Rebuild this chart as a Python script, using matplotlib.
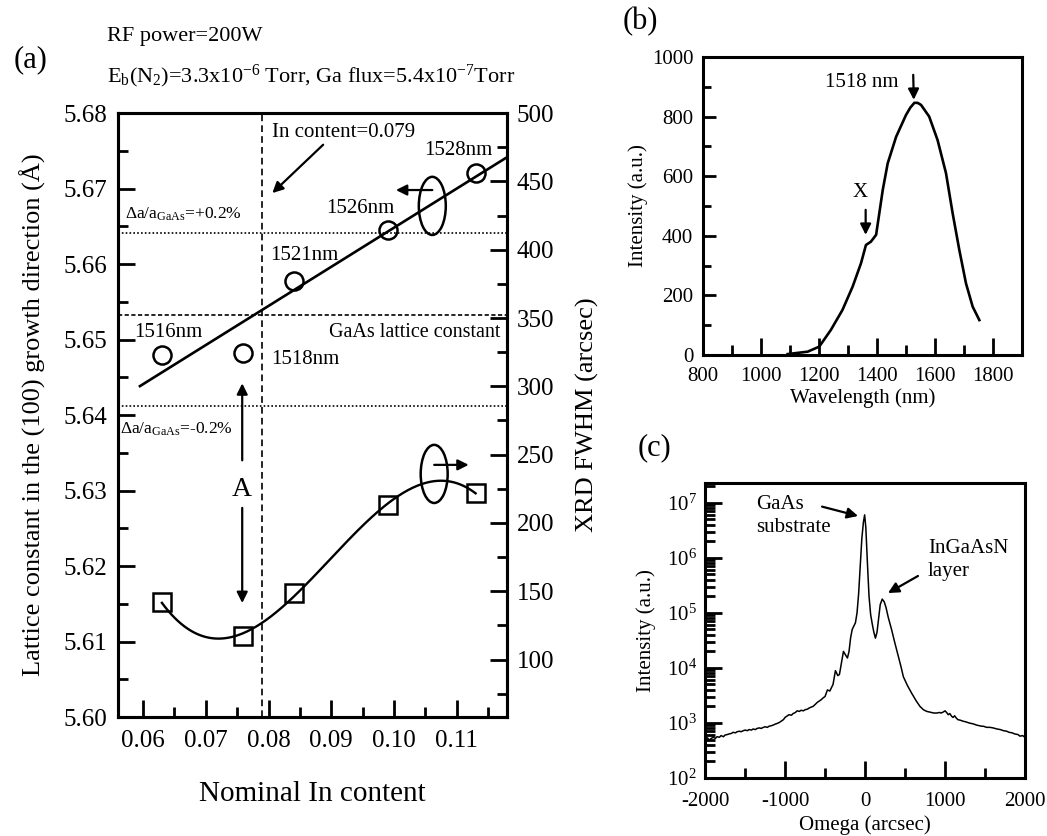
import numpy as np
import matplotlib
matplotlib.use('Agg')
import matplotlib.pyplot as plt
from matplotlib.patches import Ellipse
from matplotlib.ticker import MultipleLocator, FormatStrFormatter, LogLocator, NullFormatter

plt.rcParams['font.family'] = ['Liberation Serif', 'DejaVu Serif']
plt.rcParams['mathtext.fontset'] = 'custom'
plt.rcParams['mathtext.rm'] = 'Liberation Serif'
plt.rcParams['mathtext.it'] = 'Liberation Serif:italic'
plt.rcParams['mathtext.bf'] = 'Liberation Serif:bold'
plt.rcParams['axes.unicode_minus'] = False

# (a) lattice constant and XRD FWHM vs nominal In content
in_content = [0.063, 0.076, 0.084, 0.099, 0.113]
lattice = [5.648, 5.6482, 5.6577, 5.6645, 5.672]
pl_peak = ['1516nm', '1518nm', '1521nm', '1526nm', '1528nm']
fwhm = [142, 117, 149, 213, 222]
gaas_a = 5.6533
strain_hi = 5.6641
strain_lo = 5.6412

# (b) PL spectrum
wavelength = [1092, 1161, 1201, 1241, 1281, 1316, 1345, 1362, 1379, 1397, 1408, 1420,
              1437, 1466, 1500, 1515, 1529, 1540, 1552, 1580, 1609, 1638, 1661, 1684,
              1707, 1730, 1753]
pl_int = [3, 11, 28, 84, 151, 229, 308, 369, 380, 403, 475, 554,
          643, 732, 805, 830, 846, 846, 839, 800, 721, 610, 475, 352,
          240, 162, 117]

# (c) XRD rocking curve (log10 of intensity)
omega = [-2000, -1970, -1950, -1920, -1900, -1870, -1850, -1820, -1800, -1770, -1750,
         -1720, -1700, -1670, -1650, -1620, -1600, -1570, -1550, -1520, -1500, -1470,
         -1450, -1420, -1400, -1370, -1350, -1320, -1300, -1270, -1250, -1220, -1200,
         -1170, -1150, -1120, -1100, -1070, -1050, -1020, -1000, -970, -950, -920, -900,
         -870, -850, -820, -800, -770, -750, -720, -700, -670, -650, -620, -600, -570,
         -550, -520, -500, -470, -440, -420, -400, -370, -340, -320, -300, -270, -250,
         -220, -200, -180, -160, -140, -120, -100, -80, -60, -40, -20, -5, 10, 30, 50,
         70, 90, 110, 130, 150, 170, 190, 215, 240, 262, 290, 333, 370, 416, 450, 479,
         530, 583, 640, 687, 730, 771, 800, 830, 860, 896, 930, 950, 980, 1000, 1020,
         1040, 1060, 1083, 1100, 1120, 1140, 1160, 1190, 1229, 1260, 1300, 1330, 1360,
         1396, 1430, 1460, 1480, 1520, 1562, 1600, 1650, 1690, 1729, 1770, 1800, 1840,
         1870, 1910, 1937, 1970, 2000]
xrd_log = [2.70, 2.73, 2.69, 2.72, 2.74, 2.72, 2.75, 2.74, 2.77, 2.75, 2.78,
           2.79, 2.80, 2.81, 2.83, 2.82, 2.84, 2.85, 2.84, 2.86, 2.87, 2.86,
           2.88, 2.87, 2.89, 2.88, 2.90, 2.91, 2.90, 2.92, 2.93, 2.92, 2.94,
           2.95, 2.96, 2.98, 2.99, 3.01, 3.03, 3.06, 3.10, 3.13, 3.15, 3.14, 3.17,
           3.19, 3.22, 3.21, 3.23, 3.22, 3.24, 3.25, 3.27, 3.29, 3.30, 3.34, 3.37, 3.40,
           3.42, 3.46, 3.48, 3.60, 3.58, 3.64, 3.70, 3.95, 3.86, 3.88, 4.05, 4.30, 4.25,
           4.18, 4.30, 4.55, 4.70, 4.76, 4.82, 5.00, 5.35, 5.85, 6.35, 6.65, 6.78, 6.55, 5.90, 5.30,
           4.97, 4.80, 4.65, 4.54, 4.65, 4.90, 5.15, 5.25, 5.20, 5.10, 4.92, 4.69, 4.47, 4.21, 4.02, 3.84,
           3.68, 3.54, 3.40, 3.30, 3.24, 3.21, 3.20, 3.19, 3.18, 3.18, 3.19, 3.18, 3.20, 3.22, 3.19,
           3.15, 3.17, 3.12, 3.10, 3.13, 3.09, 3.06, 3.05, 3.03, 3.02, 3.00, 2.99, 2.98,
           2.96, 2.95, 2.94, 2.94, 2.92, 2.92, 2.91, 2.89, 2.88, 2.86, 2.85, 2.83, 2.82,
           2.80, 2.79, 2.76, 2.77, 2.74]

fig = plt.figure(figsize=(10.47, 8.36), dpi=100)

SPW = 2.2
arrow = dict(arrowstyle='-|>', color='k', lw=1.6, mutation_scale=16, shrinkA=0, shrinkB=0)

# ---------------- panel (a)
ax_a = fig.add_axes([0.1127, 0.1423, 0.3715, 0.7225])
ax_a2 = ax_a.twinx()
ax_a.set_xlim(0.056, 0.118)
ax_a.set_ylim(5.60, 5.68)
ax_a2.set_ylim(58, 500)
ax_a.xaxis.set_major_locator(MultipleLocator(0.01))
ax_a.xaxis.set_minor_locator(MultipleLocator(0.005))
ax_a.yaxis.set_major_locator(MultipleLocator(0.01))
ax_a.yaxis.set_minor_locator(MultipleLocator(0.005))
ax_a.xaxis.set_major_formatter(FormatStrFormatter('%.2f'))
ax_a.yaxis.set_major_formatter(FormatStrFormatter('%.2f'))
ax_a2.yaxis.set_major_locator(MultipleLocator(50))
ax_a2.yaxis.set_minor_locator(MultipleLocator(25))
for ax in (ax_a, ax_a2):
    ax.tick_params(which='both', direction='in', top=False, width=2, labelsize=18)
    ax.tick_params(which='major', length=12)
    ax.tick_params(which='minor', length=7)
    for s in ax.spines.values():
        s.set_linewidth(SPW)
ax_a.tick_params(right=False, which='both')
ax_a.tick_params(axis='y', pad=8)
ax_a.tick_params(axis='x', pad=9)
ax_a2.tick_params(axis='y', pad=7)

ax_a.set_xlabel('Nominal In content', fontsize=21, labelpad=21)
ax_a.set_ylabel('Lattice constant in the (100) growth direction (Å)', fontsize=19, labelpad=12)
ax_a2.set_ylabel('XRD FWHM (arcsec)', fontsize=19, labelpad=16)

dot = (0, (1.0, 1.3))
ax_a.axhline(strain_hi, color='k', lw=1.2, ls=dot)
ax_a.axhline(strain_lo, color='k', lw=1.2, ls=dot)
ax_a.axhline(gaas_a, color='k', lw=1.2, ls=(0, (2.5, 1.5)))
ax_a.axvline(0.079, color='k', lw=1.2, ls=(0, (4, 2.5)))

p1 = np.polyfit(in_content, lattice, 1)
xs = np.linspace(0.0595, 0.118, 50)
ax_a.plot(xs, np.polyval(p1, xs), color='k', lw=1.9)
ax_a.plot(in_content, lattice, 'o', mfc='none', mec='k', ms=13, mew=1.8)

p3 = np.polyfit(in_content, fwhm, 3)
xs3 = np.linspace(in_content[0], in_content[-1], 200)
ax_a2.plot(xs3, np.polyval(p3, xs3), color='k', lw=1.7)
ax_a2.plot(in_content, fwhm, 's', mfc='none', mec='k', ms=12.5, mew=1.8)

label_pos = [(0.0640, 5.6509), (0.0858, 5.6474), (0.0857, 5.6611), (0.0946, 5.6674), (0.1102, 5.6751)]
for lab, (lx, ly) in zip(pl_peak, label_pos):
    ax_a.text(lx, ly, lab, fontsize=15, ha='center', va='center')

ax_a.text(0.0805, 5.6774, 'In content=0.079', fontsize=15, ha='left', va='center')
ax_a.annotate('', xy=(0.0806, 5.6694), xytext=(0.0887, 5.6758), arrowprops=arrow)
ax_a.text(0.1169, 5.6509, 'GaAs lattice constant', fontsize=14.5, ha='right', va='center')
ax_a.text(0.0571, 5.6660, r'$\Delta$a/a$_{\mathrm{GaAs}}$=+0.2%', fontsize=12.5, ha='left', va='baseline')
ax_a.text(0.0563, 5.6376, r'$\Delta$a/a$_{\mathrm{GaAs}}$=-0.2%', fontsize=12.5, ha='left', va='baseline')

ax_a.text(0.0758, 5.6301, 'A', fontsize=20, ha='center', va='center')
ax_a.annotate('', xy=(0.0758, 5.6442), xytext=(0.0758, 5.6340), arrowprops=arrow)
ax_a.annotate('', xy=(0.0758, 5.6151), xytext=(0.0758, 5.6277), arrowprops=arrow)

ax_a.add_patch(Ellipse((0.1061, 5.6677), 0.0043, 0.0077, fill=False, lw=1.8, color='k'))
ax_a.annotate('', xy=(0.1003, 5.6698), xytext=(0.1061, 5.6698), arrowprops=arrow)
ax_a.add_patch(Ellipse((0.1064, 5.6322), 0.0043, 0.0077, fill=False, lw=1.8, color='k'))
ax_a.annotate('', xy=(0.1119, 5.6334), xytext=(0.1064, 5.6334), arrowprops=arrow)

fig.text(0.0296, 0.928, '(a)', fontsize=22, ha='center', va='center')
fig.text(0.102, 0.951, 'RF power=200W', fontsize=16, ha='left', va='baseline')
fig.text(0.102, 0.902,
         r'E$_{\mathrm{b}}$(N$_{2}$)=3.3x10$^{-6}$ Torr, Ga flux=5.4x10$^{-7}$Torr',
         fontsize=16, ha='left', va='baseline')

# ---------------- panel (b)
ax_b = fig.add_axes([0.6714, 0.5754, 0.3047, 0.3565])
ax_b.plot(wavelength, pl_int, color='k', lw=1.9)
ax_b.set_xlim(800, 1900)
ax_b.set_ylim(0, 1000)
ax_b.xaxis.set_major_locator(MultipleLocator(200))
ax_b.xaxis.set_minor_locator(MultipleLocator(100))
ax_b.yaxis.set_major_locator(MultipleLocator(200))
ax_b.yaxis.set_minor_locator(MultipleLocator(100))
ax_b.tick_params(which='both', direction='in', width=2, labelsize=15)
ax_b.tick_params(axis='x', pad=9)
ax_b.tick_params(axis='y', pad=7)
ax_b.tick_params(axis='x', which='major', length=12)
ax_b.tick_params(axis='x', which='minor', length=7)
ax_b.tick_params(axis='y', which='major', length=9)
ax_b.tick_params(axis='y', which='minor', length=6)
for s in ax_b.spines.values():
    s.set_linewidth(SPW)
ax_b.set_xlabel('Wavelength (nm)', fontsize=15, labelpad=1)
ax_b.set_ylabel('Intensity (a.u.)', fontsize=15, labelpad=3)
ax_b.text(1347, 913, '1518 nm', fontsize=15, ha='center', va='center')
ax_b.annotate('', xy=(1527, 856), xytext=(1525, 940), arrowprops=arrow)
ax_b.text(1343, 544, 'X', fontsize=15, ha='center', va='center')
ax_b.annotate('', xy=(1361, 403), xytext=(1361, 487), arrowprops=arrow)
fig.text(0.612, 0.974, '(b)', fontsize=22, ha='center', va='center')

# ---------------- panel (c)
ax_c = fig.add_axes([0.6734, 0.0694, 0.3056, 0.3529])
ax_c.plot(omega, np.power(10.0, xrd_log), color='k', lw=1.1)
ax_c.set_yscale('log')
ax_c.set_xlim(-2000, 2000)
ax_c.set_ylim(1e2, 10 ** 7.36)
ax_c.xaxis.set_major_locator(MultipleLocator(1000))
ax_c.xaxis.set_minor_locator(MultipleLocator(500))
ax_c.yaxis.set_major_locator(LogLocator(base=10))
ax_c.yaxis.set_minor_locator(LogLocator(base=10, subs=np.arange(2, 10)))
ax_c.yaxis.set_minor_formatter(NullFormatter())
ax_c.tick_params(which='both', direction='in', width=2, labelsize=15)
ax_c.tick_params(axis='x', pad=10)
ax_c.tick_params(axis='y', pad=6)
ax_c.tick_params(which='major', length=12)
ax_c.tick_params(which='minor', length=7)
for s in ax_c.spines.values():
    s.set_linewidth(SPW)
ax_c.set_xlabel('Omega (arcsec)', fontsize=15, labelpad=3)
ax_c.set_ylabel('Intensity (a.u.)', fontsize=15, labelpad=8)
ax_c.text(-1362, 10 ** 6.76, 'GaAs\nsubstrate', fontsize=15, ha='left', va='center', linespacing=1.25)
ax_c.annotate('', xy=(-87, 10 ** 6.76), xytext=(-537, 10 ** 6.93), arrowprops=arrow)
ax_c.text(787, 10 ** 5.96, 'InGaAsN\nlayer', fontsize=15, ha='left', va='center', linespacing=1.25)
ax_c.annotate('', xy=(287, 10 ** 5.36), xytext=(662, 10 ** 5.67), arrowprops=arrow)
fig.text(0.625, 0.465, '(c)', fontsize=22, ha='center', va='center')

fig.savefig('out.png', dpi=100)
